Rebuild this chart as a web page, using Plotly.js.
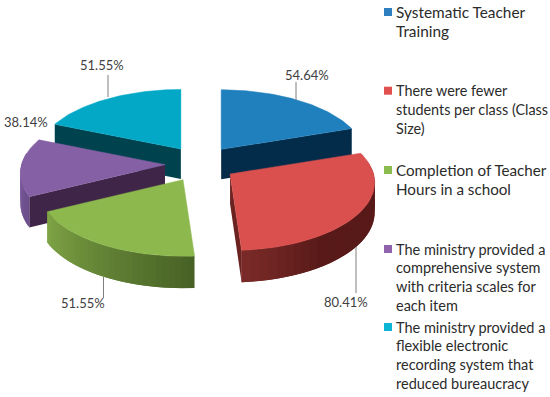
<!DOCTYPE html>
<html>
<head>
<meta charset="utf-8">
<script src="https://cdn.plot.ly/plotly-3.0.1.min.js"></script>
<style>html,body{margin:0;padding:0;background:#fff}</style>
</head>
<body>
<div id="chart" style="width:550px;height:397px"></div>
<script>
// ---- data ----
const categories = [
  "Systematic Teacher<br>Training",
  "There were fewer<br>students per class (Class<br>Size)",
  "Completion of Teacher<br>Hours in a school",
  "The ministry provided a<br>comprehensive system<br>with criteria scales for<br>each item",
  "The ministry provided a<br>flexible electronic<br>recording system that<br>reduced bureaucracy"
];
const values = [54.64, 80.41, 51.55, 38.14, 51.55];

// ---- styling ----
const topColors = ["#2080bd", "#d9504e", "#8cb84e", "#8560a5", "#02a8c6"];
const cutColors = ["#032c4a", "#6b2321", "#4a6326", "#3f2548", "#00434f"];
const rimFrom   = [[3,44,74], [125,44,42], [128,166,70], [122,90,155], [0,67,79]];
const rimTo     = [[3,44,74], [88,26,24], [72,98,38], [108,78,140], [0,67,79]];
const rimRamp   = [1, 3, 1, 1, 1];
const legendColors = ["#2e7fc0", "#e0504f", "#8cbb4f", "#9163ad", "#0bb5d3"];
const legendSizes = [15.4, 14.4, 15.2, 14.5, 14.5];
const drawOrder = [0, 4, 3, 1, 2];
const labelPos = [[307,75],[346,302],[83,303],[26,122],[102,65]];
const leaders  = [[[296,296],[82,100]],[[356,356],[247,293]],[[103.5,103.5],[277,298]],null,[[108,108],[75,97]]];
const legendY  = [12, 90.7, 170, 249, 327];
const LINE_STEP = 18.9;
const CX=200.5, CY=164, EX=35.5, EY=18, R=143.5, RK=67, P=0.125, H=30, HP=0.06;

const total = values.reduce((a,b)=>a+b,0);
const rad = d => d*Math.PI/180;
function rimPoint(th, ax, ay){
  const v = Math.cos(rad(th));
  const s = 1/(1+P*v);
  return {x: ax + R*Math.sin(rad(th))*s, y: ay - RK*v*s, h: H/(1+HP*v)};
}
const traces = [];
function poly(xs, ys, color, lw){
  traces.push({type:"scatter", mode:"lines", x:[...xs, xs[0]], y:[...ys, ys[0]], fill:"toself",
    fillcolor:color, line:{color:color, width:lw||0}, hoverinfo:"skip", showlegend:false});
}
let acc = 0;
const slices = values.map(v => { const a=acc, b=acc+v/total*360; acc=b; return {a,b}; });

drawOrder.forEach(i => {
  const {a,b} = slices[i];
  const mid = (a+b)/2;
  const ax = CX + EX*Math.sin(rad(mid));
  const ay = CY - EY*Math.cos(rad(mid));
  [[a, Math.sin(rad(a)) < -1e-6],[b, Math.sin(rad(b)) > 1e-6]].forEach(([th, front]) => {
    if(!front) return;
    const p = rimPoint(th, ax, ay);
    poly([ax,p.x,p.x,ax],[ay,p.y,p.y+p.h,ay+H],cutColors[i]);
  });
  const lo = Math.max(a,80), hi = Math.min(b,280);
  if(hi>lo){
    const n = 30;
    for(let k=0;k<n;k++){
      const t1 = lo+(hi-lo)*k/n, t2 = Math.min(hi, lo+(hi-lo)*(k+2)/n);
      const p1 = rimPoint(t1,ax,ay), p2 = rimPoint(t2,ax,ay);
      const g = Math.min(1,(hi-t1)/(hi-lo)*rimRamp[i]);
      const c = rimFrom[i].map((c0,j)=>Math.round(c0+(rimTo[i][j]-c0)*g));
      poly([p1.x,p2.x,p2.x,p1.x],[p1.y,p2.y,p2.y+p2.h,p1.y+p1.h],"rgb("+c.join(",")+")");
    }
  }
  const xs=[ax], ys=[ay];
  for(let k=0;k<=50;k++){
    const p = rimPoint(a+(b-a)*k/50,ax,ay);
    xs.push(p.x); ys.push(p.y);
  }
  poly(xs,ys,topColors[i],0.5);
});

leaders.forEach(l => { if(l) traces.push({type:"scatter",mode:"lines",x:l[0],y:l[1],
  line:{color:"#7f7f7f",width:1},hoverinfo:"skip",showlegend:false}); });

traces.push({type:"scatter",mode:"markers",x:categories.map(()=>388),y:legendY,
  marker:{symbol:"square",size:8,color:legendColors,line:{width:0}},hoverinfo:"skip",showlegend:false});

const annotations = [];
values.forEach((v,i)=>annotations.push({x:labelPos[i][0],y:labelPos[i][1],xref:"x",yref:"y",
  text:v.toFixed(2)+"%",showarrow:false,xanchor:"center",yanchor:"middle",
  font:{family:"Lato, Open Sans, sans-serif",size:13,color:"#404040"}}));
categories.forEach((c,i)=>c.split("<br>").forEach((line,j)=>annotations.push({
  x:395,y:legendY[i]+j*LINE_STEP,xref:"x",yref:"y",
  text:line,showarrow:false,xanchor:"left",yanchor:"middle",align:"left",borderpad:0,
  font:{family:"Lato, Open Sans, sans-serif",size:legendSizes[i],color:"#2b2b2b"}})));

Plotly.newPlot("chart",traces,{
  width:550,height:397,margin:{l:0,r:0,t:0,b:0,pad:0},
  paper_bgcolor:"#fff",plot_bgcolor:"#fff",showlegend:false,
  xaxis:{range:[0,550],visible:false,fixedrange:true},
  yaxis:{range:[397,0],visible:false,fixedrange:true},
  annotations
},{displayModeBar:false,staticPlot:true});
</script>
</body>
</html>
